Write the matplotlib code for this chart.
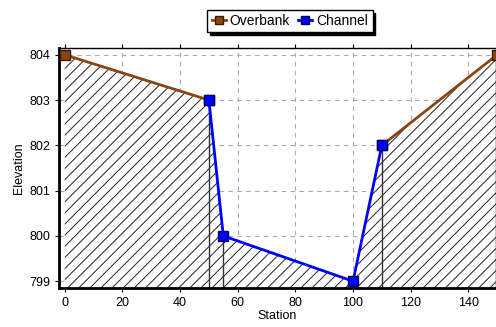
import matplotlib.pyplot as plt
from matplotlib.lines import Line2D

# ---- data (station, elevation) ----
ground_x = [0, 50, 55, 100, 110, 150]
ground_y = [804, 803, 800, 799, 802, 804]

left_ob_x, left_ob_y = [0, 50], [804, 803]
right_ob_x, right_ob_y = [110, 150], [802, 804]
channel_x = [50, 55, 100, 110]
channel_y = [803, 800, 799, 802]

x_ticks = [0, 20, 40, 60, 80, 100, 120, 140]
y_ticks = [799, 800, 801, 802, 803, 804]

BROWN = '#8B4513'
BLUE = '#0000FF'
YMIN, YMAX = 798.85, 804.15

plt.rcParams['font.family'] = ['Liberation Sans', 'DejaVu Sans']
plt.rcParams['hatch.linewidth'] = 0.7

fig = plt.figure(figsize=(4.96, 3.27), dpi=100)
fig.patch.set_facecolor('white')
ax = fig.add_axes([59 / 496, 1 - 288 / 327, 1 - 59 / 496, (288 - 48) / 327])
ax.set_xlim(-2, 149.6)
ax.set_ylim(YMIN, YMAX)

# hatched ground
ax.fill_between(ground_x, ground_y, YMIN, facecolor='white', edgecolor='#222222',
                hatch='///', linewidth=0, zorder=1)
# vertical lines from channel points down
for sx, sy in zip(channel_x, channel_y):
    ax.plot([sx, sx], [YMIN, sy], color='#333333', lw=1, zorder=2)

ax.grid(True, color='#aaaaaa', linestyle=(0, (4, 4)), lw=0.8, zorder=0)
ax.set_axisbelow(True)

ax.plot(left_ob_x, left_ob_y, color=BROWN, lw=2, marker='s', ms=7,
        mfc=BROWN, mec='#3a1a00', zorder=4, clip_on=False)
ax.plot(right_ob_x, right_ob_y, color=BROWN, lw=2, marker='s', ms=7,
        mfc=BROWN, mec='#3a1a00', zorder=4)
ax.plot(channel_x, channel_y, color=BLUE, lw=2, marker='s', ms=7,
        mfc=BLUE, mec='#00005a', zorder=5)

ax.set_xticks(x_ticks)
ax.set_yticks(y_ticks)
ax.tick_params(labelsize=9, length=3, direction='out', top=True)
ax.set_xlabel('Station', fontsize=9, labelpad=1)
ax.set_ylabel('Elevation', fontsize=9, labelpad=3)

for side in ['left', 'bottom']:
    ax.spines[side].set_linewidth(2)
for side in ['top', 'right']:
    ax.spines[side].set_linewidth(1)

handles = [
    Line2D([], [], color=BROWN, lw=2, marker='s', ms=6, mfc=BROWN, mec='#3a1a00'),
    Line2D([], [], color=BLUE, lw=2, marker='s', ms=6, mfc=BLUE, mec='#00005a'),
]
fig.legend(handles, ['Overbank', 'Channel'], loc='center',
           bbox_to_anchor=(290 / 496, 1 - 21 / 327), ncol=2, fontsize=10,
           handlelength=1.0, handletextpad=0.3, columnspacing=0.6,
           borderpad=0.3, fancybox=False, edgecolor='black', framealpha=1,
           shadow={'color': 'black', 'alpha': 1, 'ox': 2, 'oy': -2})

fig.savefig('out.png', dpi=100, facecolor='white')
